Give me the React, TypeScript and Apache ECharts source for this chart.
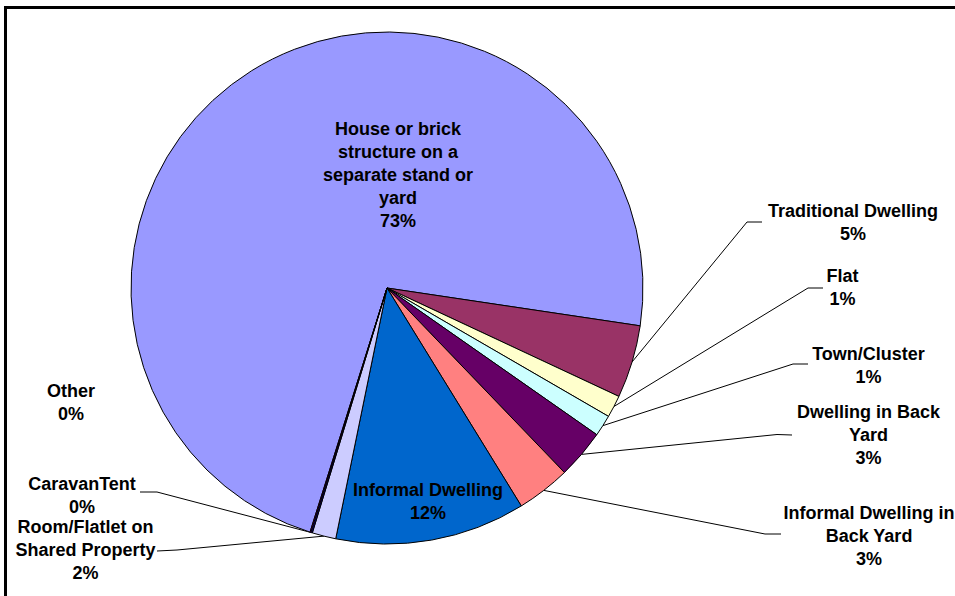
import React, { useEffect, useRef } from "react";
import * as echarts from "echarts";

// Categories (label text with the line breaks used in the chart)
const categories = [
  "House or brick\nstructure on a\nseparate stand or\nyard",
  "Traditional Dwelling",
  "Flat",
  "Town/Cluster",
  "Dwelling in Back\nYard",
  "Informal Dwelling in\nBack Yard",
  "Informal Dwelling",
  "Room/Flatlet on\nShared Property",
  "CaravanTent",
  "Other",
];

// Share of dwellings (%)
const shares = [72.5, 4.6, 1.4, 1.35, 3.1, 3.4, 12.0, 1.5, 0.1, 0.05];

const colors = [
  "#9999FF",
  "#993366",
  "#FFFFCC",
  "#CCFFFF",
  "#660066",
  "#FF8080",
  "#0066CC",
  "#CCCCFF",
  "#000080",
  "#FF00FF",
];

// Label placement (centre of each label block) and leader-line bends/ends
const labelCenters: number[][] = [
  [398, 174.5],
  [853, 222],
  [842.5, 287.5],
  [868.5, 365],
  [868.5, 435],
  [869, 536],
  [428, 501],
  [85.5, 550],
  [82, 495],
  [71, 402.5],
];
const leaderBends: (number[] | null)[] = [
  null,
  [747, 222],
  [808, 288],
  [793, 364],
  [777, 434.5],
  [765, 534],
  null,
  [177, 550],
  [157, 492],
  null,
];
const leaderEnds: (number[] | null)[] = [
  null,
  [762, 222],
  [823, 288],
  [808, 364],
  [792, 435],
  [781, 534],
  null,
  [157, 551],
  [140, 492],
  null,
];

export default function App() {
  const ref = useRef<HTMLDivElement>(null);

  useEffect(() => {
    if (!ref.current) return;
    const chart = echarts.init(ref.current, undefined, { renderer: "svg" });
    const font = "'Liberation Sans', Arial, sans-serif";
    chart.setOption({
      animation: false,
      backgroundColor: "#ffffff",
      graphic: [
        {
          type: "rect",
          silent: true,
          z: 100,
          shape: { x: 5.5, y: 7.5, width: 1000, height: 700 },
          style: { fill: "none", stroke: "#000", lineWidth: 3 },
        },
      ],
      series: [
        {
          type: "pie",
          silent: true,
          center: [387, 288],
          radius: 256,
          startAngle: 252.5,
          clockwise: true,
          avoidLabelOverlap: false,
          itemStyle: { borderColor: "#000", borderWidth: 1 },
          label: {
            show: true,
            position: "outside",
            color: "#000",
            fontFamily: font,
            fontWeight: "bold",
            fontSize: 18,
            lineHeight: 23,
            align: "center",
            formatter: (p: any) => `${p.name}\n${Math.round(p.percent)}%`,
          },
          labelLine: {
            show: true,
            length: 10,
            length2: 10,
            lineStyle: { color: "#000", width: 1 },
          },
          labelLayout: (params: any) => {
            const i = params.dataIndex;
            const c = labelCenters[i];
            const res: any = {
              x: c[0],
              y: c[1],
              align: "center",
              verticalAlign: "middle",
              hideOverlap: false,
            };
            const b = leaderBends[i];
            const e = leaderEnds[i];
            if (b && e && params.labelLinePoints) {
              res.labelLinePoints = [params.labelLinePoints[0], b, e];
            }
            return res;
          },
          data: categories.map((name, i) => ({
            name,
            value: shares[i],
            itemStyle: { color: colors[i] },
            labelLine: { show: leaderBends[i] != null },
          })),
        },
      ],
    });
    return () => chart.dispose();
  }, []);

  return (
    <div
      ref={ref}
      style={{ position: "absolute", left: 0, top: 0, width: 955, height: 596 }}
    />
  );
}
